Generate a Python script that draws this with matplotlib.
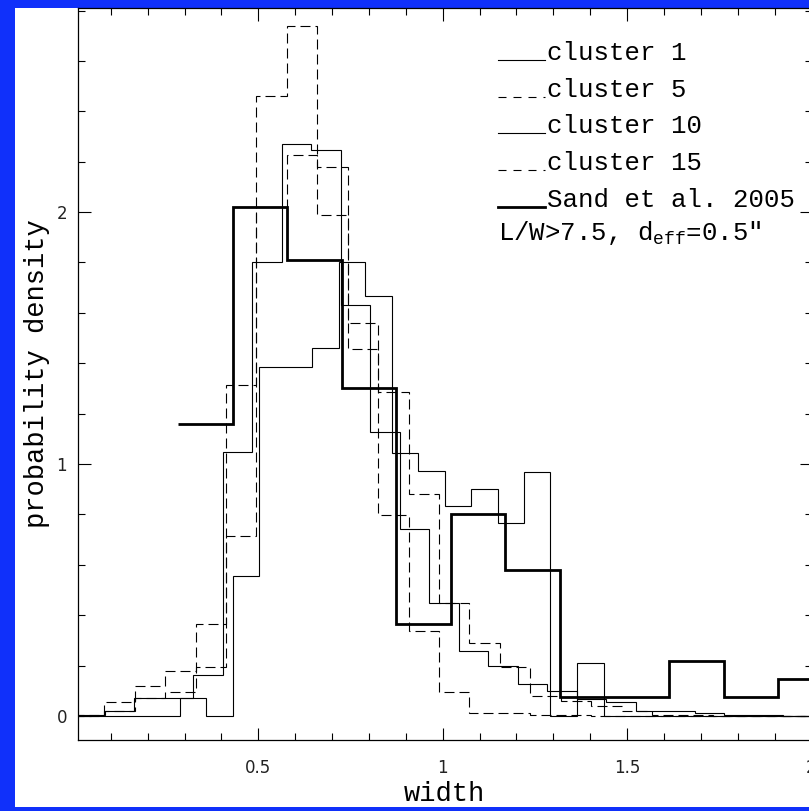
import numpy as np
import matplotlib.pyplot as plt
from matplotlib.patches import Rectangle
from matplotlib.ticker import MultipleLocator

# histograms (bin edges + probability density per bin)
c1_edges = [0.0, 0.072, 0.144, 0.215, 0.287, 0.359, 0.431, 0.503, 0.574, 0.646,
            0.718, 0.790, 0.862, 0.933, 1.005, 1.077, 1.149, 1.221, 1.292, 1.364,
            1.436, 1.508, 1.580, 1.651, 1.723, 1.795, 1.867, 1.939, 2.010]
c1_vals = [0, 0, 0, 0, 0.071, 0, 0.556, 1.385, 1.385, 1.461,
           1.80, 1.667, 1.045, 0.973, 0.833, 0.903, 0.765, 0.97, 0, 0.212,
           0, 0, 0, 0, 0, 0, 0, 0]

c10_edges = [0.003, 0.083, 0.163, 0.243, 0.323, 0.403, 0.483, 0.563, 0.643, 0.723,
             0.803, 0.883, 0.963, 1.043, 1.123, 1.203, 1.283, 1.363, 1.443, 1.523,
             1.603, 1.683, 1.763, 1.843, 1.923, 2.003]
c10_vals = [0.005, 0.021, 0.071, 0.071, 0.163, 1.049, 1.80, 2.27, 2.246, 1.63,
            1.128, 0.741, 0.45, 0.258, 0.198, 0.126, 0.10, 0.068, 0.056, 0.02,
            0.02, 0.013, 0.005, 0.005, 0.0]

dash_edges = [0.0, 0.0825, 0.165, 0.2475, 0.33, 0.4125, 0.495, 0.5775, 0.66, 0.7425,
              0.825, 0.9075, 0.99, 1.0725, 1.155, 1.2375, 1.32, 1.4025, 1.485, 1.5675,
              1.65, 1.7325, 1.815, 1.8975, 1.98, 2.0625]
c5_vals = [0.005, 0.057, 0.118, 0.18, 0.364, 0.714, 2.46, 2.74, 1.99, 1.455,
           0.798, 0.339, 0.096, 0.012, 0.012, 0.005, 0.003, 0, 0, 0,
           0, 0, 0, 0, 0]
c15_vals = [0.0, 0.021, 0.07, 0.095, 0.196, 1.313, 2.02, 2.226, 2.18, 1.558,
            1.287, 0.881, 0.45, 0.288, 0.196, 0.079, 0.06, 0.04, 0.02, 0.005,
            0.004, 0, 0, 0, 0]

sand_edges = [0.282, 0.430, 0.578, 0.726, 0.874, 1.022, 1.170, 1.318, 1.466,
              1.614, 1.762, 1.910, 2.058]
sand_vals = [1.16, 2.02, 1.81, 1.30, 0.365, 0.80, 0.58, 0.075, 0.075, 0.218, 0.075, 0.147]

labels = ['cluster 1', 'cluster 5', 'cluster 10', 'cluster 15', 'Sand et al. 2005']

plt.rcParams['mathtext.fontset'] = 'custom'
plt.rcParams['mathtext.rm'] = 'Liberation Mono'
plt.rcParams['mathtext.it'] = 'Liberation Mono'

W, H = 809, 811
fig = plt.figure(figsize=(W / 100, H / 100), dpi=100, facecolor='#1030fa')
fig.add_artist(Rectangle((15 / W, 4 / H), 1 - 15 / W, 799 / H, transform=fig.transFigure,
                         facecolor='white', edgecolor='none', zorder=0))

ax = fig.add_axes([78 / W, 71 / H, 733.5 / W, 732 / H])
ax.set_facecolor('white')

thin = 0.8
dash = (0, (9, 4.5))
ax.stairs(c1_vals, c1_edges, baseline=None, color='black', lw=thin)
ax.stairs(c10_vals, c10_edges, baseline=None, color='black', lw=thin)
ax.stairs(c5_vals, dash_edges, baseline=None, color='black', lw=thin, linestyle=dash)
ax.stairs(c15_vals, dash_edges, baseline=None, color='black', lw=thin, linestyle=dash)
ax.stairs(sand_vals, sand_edges, baseline=None, color='black', lw=2.0, zorder=3)

ax.set_xlim(0.011, 2.0)
ax.set_ylim(-0.095, 2.81)
ax.set_xticks([0.5, 1, 1.5, 2])
ax.set_xticklabels(['0.5', '1', '1.5', '2'])
ax.xaxis.set_minor_locator(MultipleLocator(0.1))
ax.set_yticks([0, 1, 2])
ax.set_yticklabels(['0', '1', '2'])
ax.yaxis.set_minor_locator(MultipleLocator(0.2))
ax.tick_params(which='both', direction='in', top=True, right=True, width=0.8,
               color='black', labelsize=12, labelcolor='#222222')
ax.tick_params(which='major', length=9)
ax.tick_params(which='minor', length=4.8)
ax.tick_params(axis='x', pad=14)
ax.tick_params(axis='y', pad=8)
for s in ax.spines.values():
    s.set_linewidth(0.9)

ax.set_xlabel('width', family='Liberation Mono', fontsize=19.5)
ax.xaxis.set_label_coords(0.5, -0.0833)
ax.xaxis.label.set_va('baseline')
ax.set_ylabel('probability density', family='Liberation Mono', fontsize=19.5)
ax.yaxis.set_label_coords(-0.047, 0.5)
ax.yaxis.label.set_rotation_mode('anchor')
ax.yaxis.label.set_va('baseline')
ax.yaxis.label.set_ha('center')

# legend drawn by hand: sample line sits on the text baseline
row_y = [0.929, 0.8788, 0.8288, 0.7787, 0.7286]
styles = [('-', thin), ((0, (7.2, 6.3)), thin), ('-', thin), ((0, (7.2, 6.3)), thin), ('-', 2.0)]
for lab, yy, (ls, lw) in zip(labels, row_y, styles):
    ax.plot([0.5726, 0.6367], [yy, yy], transform=ax.transAxes, color='black', lw=lw, ls=ls)
    ax.text(0.639, yy, lab, transform=ax.transAxes, family='Liberation Mono',
            fontsize=18.5, va='baseline', ha='left')
ax.text(0.5726, 0.6831, 'L/W>7.5, d$_{\\rm eff}$=0.5"', transform=ax.transAxes,
        family='Liberation Mono', fontsize=18.5, va='baseline', ha='left')

fig.savefig('out.png', dpi=100, facecolor=fig.get_facecolor())
